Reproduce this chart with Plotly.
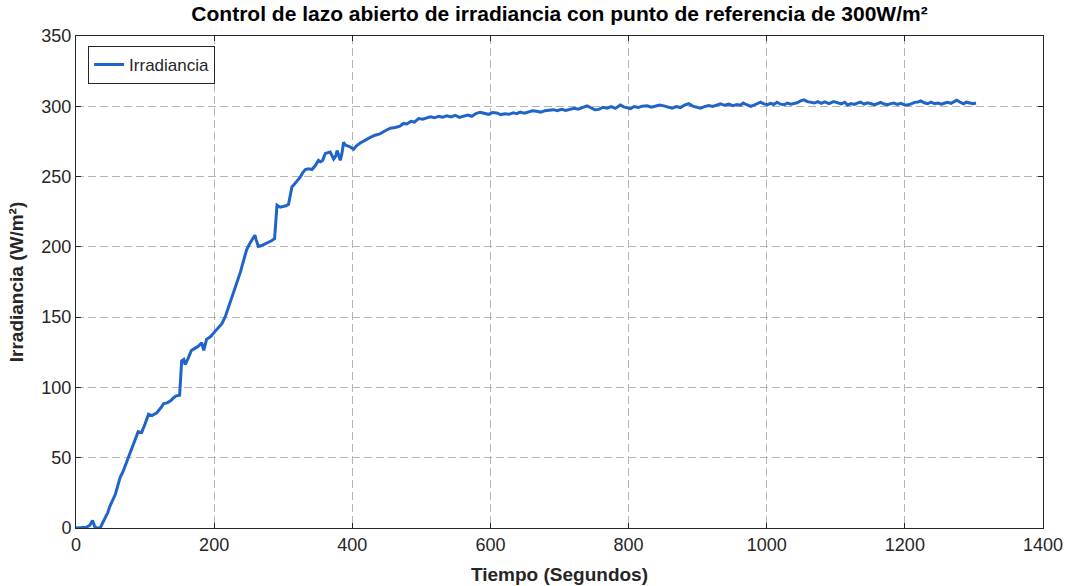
import plotly.graph_objects as go

LINE_COLOR = "#1f64c8"
TEXT_COLOR = "#262626"
GRID_COLOR = "#b4b4b4"

# tiempo (s)
tiempo = [
    0, 8, 15, 20, 24, 27, 30, 35, 38, 42, 46, 49, 53, 57, 61, 64, 68, 71, 75, 78,
    82, 86, 90, 93, 95, 100, 105, 110, 114, 117, 122, 127, 132, 137, 141, 145, 150, 152, 153, 156,
    158, 162, 167, 172, 177, 182, 185, 189, 195, 201, 206, 211, 216, 222, 228, 233, 238, 243, 247, 252,
    256, 259, 261, 264, 268, 273, 278, 283, 287.5, 289, 291, 295.6, 300, 304, 307.7, 310, 312.6, 317, 321, 324.6,
    328, 332, 337, 341.6, 346, 351, 354, 357, 361, 365, 368, 371, 373, 376, 378, 380, 382.6, 385, 387.4, 390,
    392, 396, 401.9, 406, 411.6, 418, 426, 433, 440, 447, 455, 462, 469, 474, 479, 485, 490, 496, 502, 508,
    513, 519, 525, 531, 537, 543, 549, 555, 561, 567, 573, 579, 585, 591, 597, 603, 609, 615, 621, 627,
    633, 638, 643, 649, 655, 661, 667, 673, 679, 685, 691, 697, 703, 709, 715, 721, 727, 733, 740, 746,
    751, 757, 763, 769, 775, 781, 788, 793, 798, 803, 808, 814, 820, 827, 833, 839, 845, 851, 857, 863,
    869, 875, 881, 887, 893, 899, 904, 910, 916, 922, 928, 933, 939, 945, 951, 957, 962, 966, 971, 977,
    983, 987, 991, 996, 1001, 1006, 1010, 1015, 1020, 1025, 1030, 1035, 1039, 1044, 1049, 1054, 1059, 1064, 1069, 1074,
    1079, 1084, 1090, 1097, 1103, 1108, 1113, 1117, 1122, 1127, 1131, 1136, 1141, 1146, 1151, 1156, 1160, 1165, 1170, 1175,
    1180, 1184, 1189, 1194, 1199, 1204, 1209, 1214, 1219, 1223, 1228, 1233, 1238, 1243, 1248, 1253, 1258, 1262, 1267, 1271,
    1275, 1280, 1285, 1289, 1294, 1299, 1303,
]

# irradiancia (W/m²)
irradiancia = [
    0, 0, 0.5, 2, 5.4, 1, 0, 0, 3, 6, 11, 15.4, 19.5, 24, 31, 36, 40, 44, 49, 52.5,
    58, 63, 68.5, 68, 68, 74, 81, 80, 81.5, 82, 85, 88.5, 89, 90.5, 92.5, 94, 94.4, 110, 119, 120,
    116.3, 120.3, 126.3, 127.8, 129.3, 131.8, 126.3, 134.2, 136.2, 139.7, 142.2, 145.2, 150.1, 159.1, 167, 174, 182, 190.9, 197.9, 202.8,
    205.8, 208.3, 204.8, 200.3, 200.8, 201.8, 202.8, 204.3, 205.8, 219.7, 229.7, 228.2, 228.7, 229.2, 230.3, 236.6, 242.6, 245.1, 247.1, 249.6,
    252.6, 255, 255.5, 255, 257.5, 261.5, 260.5, 261.5, 266.5, 267, 267.5, 264.5, 262.5, 264.5, 268.5, 265.5, 261.5, 266.5, 274.4, 272.4,
    272, 271.4, 269.5, 271.9, 273.9, 275.9, 277.9, 279.4, 280.4, 282.4, 284.4, 284.9, 285.9, 287.8, 287.4, 289.3, 288.8, 291.3, 290.8, 291.8,
    292.5, 291.8, 292.8, 292.3, 293.3, 292.5, 293.6, 292.1, 292.8, 293.8, 292.9, 294.8, 295.8, 295.1, 294.3, 295.5, 295.3, 294.1, 294.6, 294.3,
    295.3, 294.8, 295.9, 295.1, 295.8, 296.8, 296.5, 295.8, 296.9, 297.3, 297.6, 296.8, 297.8, 297.1, 297.7, 298.6, 297.9, 298.9, 300.3, 298.8,
    297.6, 297.8, 299.3, 298.7, 299.8, 298.5, 300.9, 299.6, 298.8, 298.3, 299.8, 299.1, 300.1, 300.3, 299.3, 300.1, 300.9, 300.3, 299.5, 298.6,
    299.8, 299.1, 300.8, 301.8, 300.1, 299.1, 298.6, 299.8, 300.6, 299.9, 301.1, 301.8, 300.7, 301.5, 300.5, 301.3, 300.8, 302.3, 301.1, 299.9,
    301.1, 301.8, 302.9, 301.7, 301.1, 302.1, 301.3, 302.9, 301.5, 301.1, 302.3, 301.5, 301.8, 302.5, 303.8, 304.6, 303.3, 302.8, 302.3, 303.3,
    302.1, 303.1, 301.9, 303.3, 302.5, 301.7, 302.9, 300.9, 301.9, 301.3, 302.3, 302.9, 301.5, 302.5, 301.8, 301.1, 301.8, 302.8, 301.6, 301.1,
    301.9, 302.3, 301.3, 302.1, 301.1, 300.9, 301.7, 302.8, 303.1, 303.8, 302.5, 301.9, 302.9, 301.8, 302.3, 301.5, 302.3, 302.9, 302.1, 303.3,
    304.3, 302.9, 301.8, 302.9, 302.5, 301.8, 302.3,
]

x_ticks = [0, 200, 400, 600, 800, 1000, 1200, 1400]
y_ticks = [0, 50, 100, 150, 200, 250, 300, 350]

fig = go.Figure()
fig.add_trace(go.Scatter(
    x=tiempo,
    y=irradiancia,
    mode="lines",
    name="Irradiancia",
    line=dict(color=LINE_COLOR, width=3),
))

axis_common = dict(
    showline=True,
    linecolor=TEXT_COLOR,
    linewidth=1,
    mirror="ticks",
    ticks="inside",
    ticklen=5,
    tickcolor=TEXT_COLOR,
    showgrid=True,
    gridcolor=GRID_COLOR,
    gridwidth=1,
    griddash="8px,4px",
    zeroline=False,
    automargin=False,
    tickfont=dict(size=18, color=TEXT_COLOR),
)

fig.update_layout(
    width=1066,
    height=586,
    font_family="Liberation Sans",
    paper_bgcolor="white",
    plot_bgcolor="white",
    margin=dict(l=76, r=23, t=36, b=58),
    title=dict(
        text="<b>Control de lazo abierto de irradiancia con punto de referencia de 300W/m²</b>",
        xref="paper", x=0.5, xanchor="center",
        y=0.976, yanchor="middle",
        font=dict(size=21, color="black"),
    ),
    xaxis=dict(
        axis_common,
        range=[0, 1400],
        tickvals=x_ticks,
        title=dict(text="<b>Tiempo (Segundos)</b>", font=dict(size=19, color=TEXT_COLOR), standoff=14),
    ),
    yaxis=dict(
        axis_common,
        range=[0, 350],
        tickvals=y_ticks,
        title=dict(text="<b>Irradiancia (W/m²)</b>", font=dict(size=19, color=TEXT_COLOR), standoff=12),
    ),
    legend=dict(
        x=0.0125, y=0.98,
        xanchor="left", yanchor="top",
        bgcolor="white",
        bordercolor=TEXT_COLOR,
        borderwidth=1,
        font=dict(size=17, color=TEXT_COLOR),
    ),
    showlegend=True,
)

# the page's default body margin would shift the figure by 8px
fig.write_html(
    "out.html",
    config={"displayModeBar": False},
    post_script="document.body.style.margin = '0';",
)
